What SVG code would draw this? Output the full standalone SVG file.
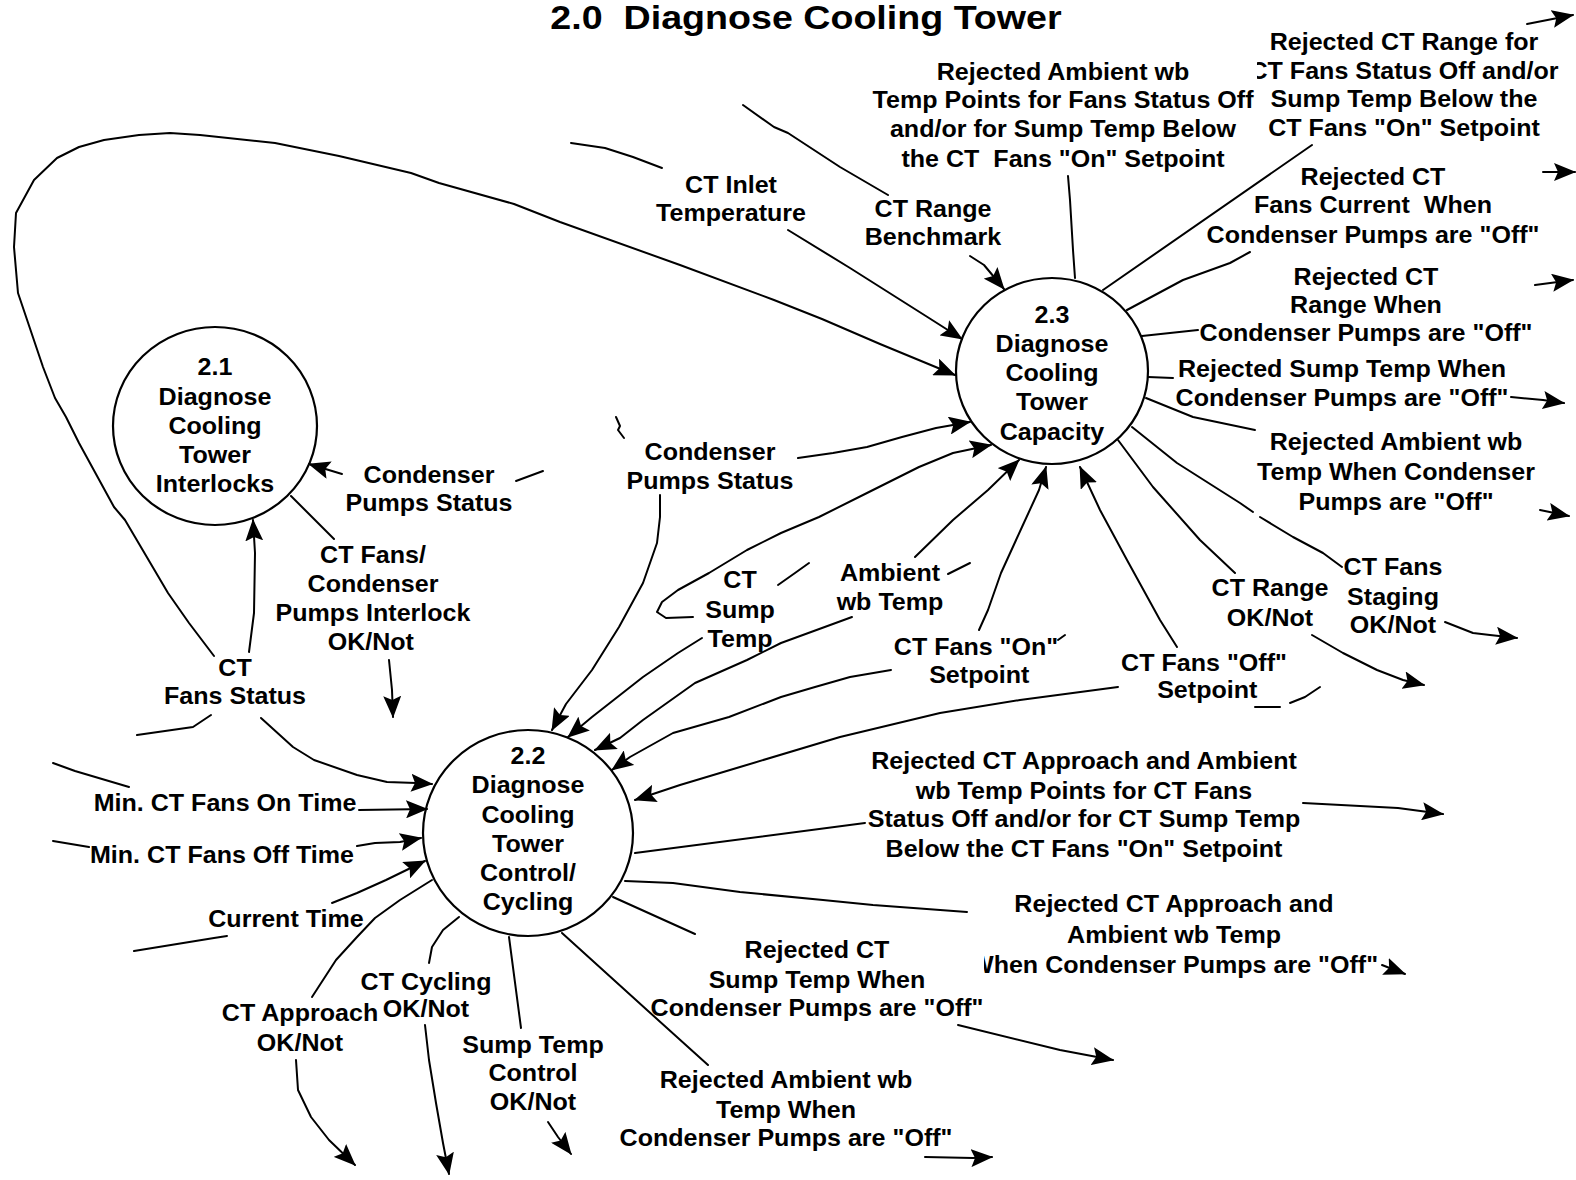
<svg xmlns="http://www.w3.org/2000/svg" width="1576" height="1180" viewBox="0 0 1576 1180">
<style>
  .bg { fill: #fff; }
  .node { fill: #fff; stroke: #000; stroke-width: 2.2; }
  .flow { fill: none; stroke: #000; stroke-width: 2; stroke-linejoin: round; stroke-linecap: round; }
  .arr { marker-end: url(#head); }
  .t { font-family: "Liberation Sans", Arial, Helvetica, sans-serif; font-weight: bold; font-size: 23px; text-anchor: middle; fill: #000; }
  .title { font-size: 33px; }
  .knock { fill: #fff; stroke: none; }
</style>
<defs>
  <marker id="head" viewBox="0 0 22 18" refX="21" refY="9" markerWidth="22" markerHeight="18" markerUnits="userSpaceOnUse" orient="auto">
    <path d="M0,0 L22,9 L0,18 L4,9 Z" fill="#000"/>
  </marker>
</defs>
<rect class="bg" x="0" y="0" width="1576" height="1180"/>

<!-- heading -->
<g id="title" transform="translate(806,0) scale(1.14,1)">
  <text class="t title" x="0" y="29" xml:space="preserve">2.0  Diagnose Cooling Tower</text>
</g>

<!-- process bubbles -->
<g id="node-2-1">
  <ellipse class="node" cx="215" cy="426" rx="102" ry="99"/>
  <g transform="translate(215,0) scale(1.09,1)">
    <text class="t"><tspan x="0" y="375">2.1</tspan><tspan x="0" y="405">Diagnose</tspan><tspan x="0" y="434">Cooling</tspan><tspan x="0" y="463">Tower</tspan><tspan x="0" y="492">Interlocks</tspan></text>
  </g>
</g>
<g id="node-2-3">
  <ellipse class="node" cx="1052" cy="371" rx="96" ry="93"/>
  <g transform="translate(1052,0) scale(1.09,1)">
    <text class="t"><tspan x="0" y="323">2.3</tspan><tspan x="0" y="352">Diagnose</tspan><tspan x="0" y="381">Cooling</tspan><tspan x="0" y="410">Tower</tspan><tspan x="0" y="440">Capacity</tspan></text>
  </g>
</g>
<g id="node-2-2">
  <ellipse class="node" cx="528" cy="833" rx="105" ry="103"/>
  <g transform="translate(528,0) scale(1.09,1)">
    <text class="t"><tspan x="0" y="764">2.2</tspan><tspan x="0" y="793">Diagnose</tspan><tspan x="0" y="823">Cooling</tspan><tspan x="0" y="852">Tower</tspan><tspan x="0" y="881">Control/</tspan><tspan x="0" y="910">Cycling</tspan></text>
  </g>
</g>

<!-- data flows -->
<g id="connectors">
  <!-- CT Fans Status loop into 2.3 -->
  <path class="flow arr" d="M214,656 L189,623 L168,593 L125,520 L114,507 L79,443 L66,417 L55,398 L43,367 L18,293 L14,247 L16,213 L34,180 L57,158 L79,147 L104,140 L139,135 L170,133 L200,135 L275,143 L339,156 L411,173 L439,183 L514,204 L560,222 L680,265 L774,300 L822,319 L880,344 L955,375"/>
  <!-- CT Inlet Temperature -->
  <path class="flow" d="M571,143 L605,148 L633,157 L662,168"/>
  <path class="flow arr" d="M788,230 L850,268 L929,318 L962,339"/>
  <!-- CT Range Benchmark -->
  <path class="flow" d="M743,105 L774,127 L788,133 L840,167 L888,195"/>
  <path class="flow arr" d="M970,256 L984,265 L1004,289"/>
  <!-- outputs from 2.3 -->
  <path class="flow" d="M1075,278 L1073,250 L1070,200 L1068,176"/>
  <path class="flow" d="M1103,290 L1312,145"/>
  <path class="flow arr" d="M1527,24 L1573,15"/>
  <path class="flow" d="M1127,310 L1183,280 L1230,263 L1250,252"/>
  <path class="flow arr" d="M1543,172 L1575,172"/>
  <path class="flow" d="M1142,336 L1198,330"/>
  <path class="flow arr" d="M1535,285 L1573,280"/>
  <path class="flow" d="M1148,377 L1173,378"/>
  <path class="flow arr" d="M1511,397 L1543,400 L1564,403"/>
  <path class="flow" d="M1146,398 L1193,417 L1255,430"/>
  <path class="flow arr" d="M1540,510 L1569,516"/>
  <path class="flow" d="M1132,427 L1177,463 L1240,503 L1253,512"/>
  <path class="flow" d="M1260,517 L1293,537 L1323,553 L1342,567"/>
  <path class="flow arr" d="M1445,622 L1473,633 L1490,635 L1517,638"/>
  <path class="flow" d="M1118,440 L1153,487 L1200,540 L1235,573"/>
  <path class="flow arr" d="M1312,635 L1343,653 L1377,670 L1403,680 L1424,685"/>
  <!-- CT Fans "Off" Setpoint -->
  <path class="flow arr" d="M1177,647 L1160,620 L1127,560 L1100,510 L1080,467"/>
  <path class="flow arr" d="M1118,687 L1020,700 L940,713 L840,737 L740,767 L680,785 L635,800"/>
  <path class="flow" d="M1255,707 L1280,707"/>
  <path class="flow" d="M1290,703 L1305,697 L1320,687"/>
  <!-- CT Fans "On" Setpoint -->
  <path class="flow arr" d="M979,630 L988,610 L1001,573 L1022,527 L1039,490 L1046,467"/>
  <path class="flow" d="M1058,640 L1065,635"/>
  <path class="flow arr" d="M891,670 L850,677 L815,687 L781,697 L729,717 L673,733 L630,757 L612,770"/>
  <!-- Ambient wb Temp -->
  <path class="flow arr" d="M915,557 L953,520 L988,490 L1019,460"/>
  <path class="flow" d="M948,574 L970,563"/>
  <path class="flow arr" d="M852,617 L822,628 L781,643 L747,660 L695,683 L643,720 L620,738 L595,750"/>
  <!-- CT Sump Temp -->
  <path class="flow arr" d="M693,617 L666,618 L657,612 L662,602 L678,590 L709,573 L747,550 L781,533 L819,517 L867,493 L919,467 L953,453 L991,445"/>
  <path class="flow" d="M778,585 L795,573 L809,563"/>
  <path class="flow arr" d="M702,638 L678,653 L643,677 L592,717 L568,737"/>
  <!-- Condenser Pumps Status (to 2.3 and 2.2) -->
  <path class="flow arr" d="M798,458 L833,453 L867,447 L902,437 L936,428 L970,422"/>
  <path class="flow arr" d="M660,495 L660,517 L657,543 L643,583 L619,627 L592,670 L566,704 L552,730"/>
  <path class="flow" d="M616,417 L620,426 L618,430 L624,438"/>
  <!-- Condenser Pumps Status into 2.1 -->
  <path class="flow arr" d="M342,474 L309,464"/>
  <path class="flow" d="M516,481 L543,471"/>
  <!-- CT Fans / Condenser Pumps Interlock -->
  <path class="flow" d="M291,496 L310,515 L334,539"/>
  <path class="flow arr" d="M389,660 L392,690 L393,717"/>
  <!-- CT Fans Status into 2.1 and 2.2 -->
  <path class="flow arr" d="M249,652 L254,613 L255,553 L253,520"/>
  <path class="flow arr" d="M261,718 L293,747 L314,760 L357,775 L387,782 L416,783 L432,784"/>
  <path class="flow" d="M137,735 L193,727 L211,715"/>
  <!-- time inputs -->
  <path class="flow" d="M53,763 L75,771 L129,787"/>
  <path class="flow arr" d="M359,810 L427,809"/>
  <path class="flow" d="M53,841 L89,847"/>
  <path class="flow arr" d="M357,846 L375,843 L400,842 L421,838"/>
  <path class="flow arr" d="M332,903 L357,893 L386,880 L425,861"/>
  <path class="flow" d="M134,951 L214,938 L227,936"/>
  <!-- outputs from 2.2 -->
  <path class="flow" d="M432,880 L400,900 L375,918 L357,937 L336,960 L312,997"/>
  <path class="flow arr" d="M296,1060 L298,1090 L311,1117 L329,1140 L355,1165"/>
  <path class="flow" d="M459,917 L443,930 L432,947 L429,963"/>
  <path class="flow arr" d="M425,1025 L429,1060 L436,1103 L443,1143 L449,1174"/>
  <path class="flow" d="M509,937 L521,1028"/>
  <path class="flow arr" d="M548,1122 L558,1137 L571,1154"/>
  <path class="flow" d="M635,853 L865,823"/>
  <path class="flow arr" d="M1303,803 L1398,808 L1443,814"/>
  <path class="flow" d="M625,881 L673,883 L740,892 L823,900 L873,905 L967,912"/>
  <path class="flow arr" d="M1382,965 L1405,974"/>
  <path class="flow" d="M613,897 L695,934"/>
  <path class="flow arr" d="M958,1025 L1060,1050 L1113,1060"/>
  <path class="flow" d="M562,933 L647,1010 L708,1065"/>
  <path class="flow arr" d="M925,1157 L973,1158 L992,1157"/>

  <!-- flow labels -->
  <g transform="translate(731,0) scale(1.09,1)"><text class="t"><tspan x="0" y="193">CT Inlet</tspan><tspan x="0" y="221">Temperature</tspan></text></g>
  <g transform="translate(933,0) scale(1.09,1)"><text class="t"><tspan x="0" y="217">CT Range</tspan><tspan x="0" y="245">Benchmark</tspan></text></g>
  <g transform="translate(1063,0) scale(1.09,1)"><text class="t" xml:space="preserve"><tspan x="0" y="80">Rejected Ambient wb</tspan><tspan x="0" y="108">Temp Points for Fans Status Off</tspan><tspan x="0" y="137">and/or for Sump Temp Below</tspan><tspan x="0" y="167">the CT  Fans "On" Setpoint</tspan></text></g>
  <g transform="translate(1404,0) scale(1.09,1)"><text class="t"><tspan x="0" y="50">Rejected CT Range for</tspan><tspan x="0" y="79">CT Fans Status Off and/or</tspan><tspan x="0" y="107">Sump Temp Below the</tspan><tspan x="0" y="136">CT Fans "On" Setpoint</tspan></text></g>
  <rect class="knock" x="1240" y="56" width="17" height="30"/>
  <g transform="translate(1373,0) scale(1.09,1)"><text class="t" xml:space="preserve"><tspan x="0" y="185">Rejected CT</tspan><tspan x="0" y="213">Fans Current  When</tspan><tspan x="0" y="243">Condenser Pumps are "Off"</tspan></text></g>
  <g transform="translate(1366,0) scale(1.09,1)"><text class="t"><tspan x="0" y="285">Rejected CT</tspan><tspan x="0" y="313">Range When</tspan><tspan x="0" y="341">Condenser Pumps are "Off"</tspan></text></g>
  <g transform="translate(1342,0) scale(1.09,1)"><text class="t"><tspan x="0" y="377">Rejected Sump Temp When</tspan><tspan x="0" y="406">Condenser Pumps are "Off"</tspan></text></g>
  <g transform="translate(1396,0) scale(1.09,1)"><text class="t"><tspan x="0" y="450">Rejected Ambient wb</tspan><tspan x="0" y="480">Temp When Condenser</tspan><tspan x="0" y="510">Pumps are "Off"</tspan></text></g>
  <g transform="translate(1393,0) scale(1.09,1)"><text class="t"><tspan x="0" y="575">CT Fans</tspan><tspan x="0" y="605">Staging</tspan><tspan x="0" y="633">OK/Not</tspan></text></g>
  <g transform="translate(1270,0) scale(1.09,1)"><text class="t"><tspan x="0" y="596">CT Range</tspan><tspan x="0" y="626">OK/Not</tspan></text></g>
  <g transform="translate(1204,0) scale(1.09,1)"><text class="t"><tspan x="0" y="671">CT Fans "Off"</tspan><tspan x="3" y="698">Setpoint</tspan></text></g>
  <g transform="translate(976,0) scale(1.09,1)"><text class="t"><tspan x="0" y="655">CT Fans "On"</tspan><tspan x="3" y="683">Setpoint</tspan></text></g>
  <g transform="translate(890,0) scale(1.09,1)"><text class="t"><tspan x="0" y="581">Ambient</tspan><tspan x="0" y="610">wb Temp</tspan></text></g>
  <g transform="translate(740,0) scale(1.09,1)"><text class="t"><tspan x="0" y="588">CT</tspan><tspan x="0" y="618">Sump</tspan><tspan x="0" y="647">Temp</tspan></text></g>
  <g transform="translate(710,0) scale(1.09,1)"><text class="t"><tspan x="0" y="460">Condenser</tspan><tspan x="0" y="489">Pumps Status</tspan></text></g>
  <g transform="translate(429,0) scale(1.09,1)"><text class="t"><tspan x="0" y="483">Condenser</tspan><tspan x="0" y="511">Pumps Status</tspan></text></g>
  <g transform="translate(373,0) scale(1.09,1)"><text class="t"><tspan x="0" y="563">CT Fans/</tspan><tspan x="0" y="592">Condenser</tspan><tspan x="0" y="621">Pumps Interlock</tspan><tspan x="-2" y="650">OK/Not</tspan></text></g>
  <g transform="translate(235,0) scale(1.09,1)"><text class="t"><tspan x="0" y="676">CT</tspan><tspan x="0" y="704">Fans Status</tspan></text></g>
  <g transform="translate(225,0) scale(1.09,1)"><text class="t"><tspan x="0" y="811">Min. CT Fans On Time</tspan></text></g>
  <g transform="translate(222,0) scale(1.09,1)"><text class="t"><tspan x="0" y="863">Min. CT Fans Off Time</tspan></text></g>
  <g transform="translate(286,0) scale(1.09,1)"><text class="t"><tspan x="0" y="927">Current Time</tspan></text></g>
  <g transform="translate(300,0) scale(1.09,1)"><text class="t"><tspan x="0" y="1021">CT Approach</tspan><tspan x="0" y="1051">OK/Not</tspan></text></g>
  <g transform="translate(426,0) scale(1.09,1)"><text class="t"><tspan x="0" y="990">CT Cycling</tspan><tspan x="0" y="1017">OK/Not</tspan></text></g>
  <g transform="translate(533,0) scale(1.09,1)"><text class="t"><tspan x="0" y="1053">Sump Temp</tspan><tspan x="0" y="1081">Control</tspan><tspan x="0" y="1110">OK/Not</tspan></text></g>
  <g transform="translate(1084,0) scale(1.09,1)"><text class="t"><tspan x="0" y="769">Rejected CT Approach and Ambient</tspan><tspan x="0" y="799">wb Temp Points for CT Fans</tspan><tspan x="0" y="827">Status Off and/or for CT Sump Temp</tspan><tspan x="0" y="857">Below the CT Fans "On" Setpoint</tspan></text></g>
  <g transform="translate(1174,0) scale(1.09,1)"><text class="t"><tspan x="0" y="912">Rejected CT Approach and</tspan><tspan x="0" y="943">Ambient wb Temp</tspan><tspan x="0" y="973">When Condenser Pumps are "Off"</tspan></text></g>
  <rect class="knock" x="960" y="948" width="24" height="30"/>
  <g transform="translate(817,0) scale(1.09,1)"><text class="t"><tspan x="0" y="958">Rejected CT</tspan><tspan x="0" y="988">Sump Temp When</tspan><tspan x="0" y="1016">Condenser Pumps are "Off"</tspan></text></g>
  <g transform="translate(786,0) scale(1.09,1)"><text class="t"><tspan x="0" y="1088">Rejected Ambient wb</tspan><tspan x="0" y="1118">Temp When</tspan><tspan x="0" y="1146">Condenser Pumps are "Off"</tspan></text></g>
</g>
</svg>
